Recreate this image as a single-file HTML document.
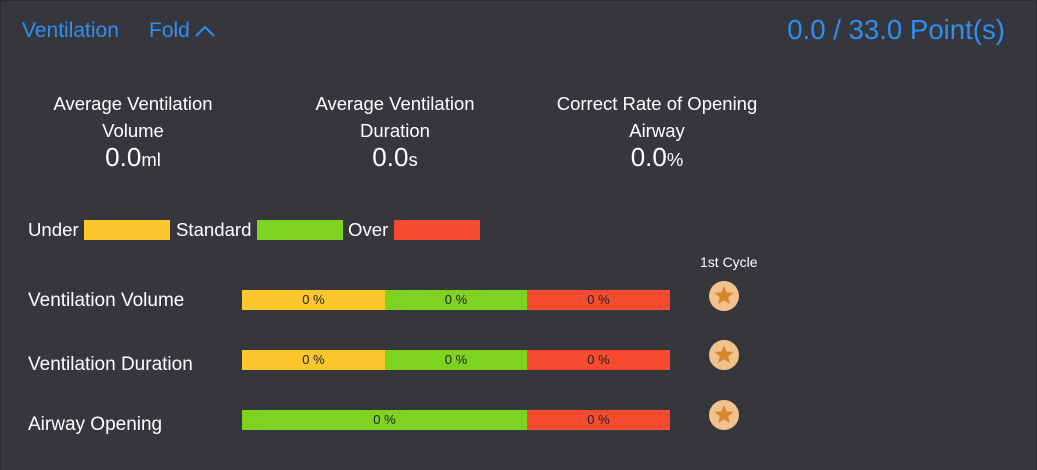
<!DOCTYPE html><html><head><style>
*{margin:0;padding:0;box-sizing:border-box}
body{width:1037px;height:470px;background:#2b2c31;font-family:"Liberation Sans",sans-serif;position:relative;overflow:hidden}
.p{position:absolute;left:1px;top:1px;width:1035px;height:469px;background:#36373d}
.a{position:absolute;white-space:nowrap}
.c{text-align:center;color:#fff}
.bar{position:absolute;height:20px;font-size:13px;color:#222;text-align:center;line-height:20px}
.y{background:#fcc72c}.g{background:#7ed321}.r{background:#f74b2f}
.lab{color:#fff;font-size:19px}
</style></head><body><div class="p"></div>
<div class="a" style="left:22px;top:19px;color:#2f8ef0;font-size:21px">Ventilation</div>
<div class="a" style="left:149px;top:19px;color:#2f8ef0;font-size:21px">Fold</div>
<svg class="a" style="left:194px;top:23px" width="22" height="16"><polyline points="2,13 11,4 20,13" fill="none" stroke="#2f8ef0" stroke-width="2"/></svg>
<div class="a" style="right:32px;top:14px;color:#2f8ef0;font-size:27.6px">0.0 / 33.0 Point(s)</div>
<div class="a c" style="left:23px;width:220px;top:90px;font-size:18.5px;line-height:27px">Average Ventilation<br>Volume</div>
<div class="a c" style="left:23px;width:220px;top:142px;font-size:26px">0.0<span style="font-size:18.5px">ml</span></div>
<div class="a c" style="left:285px;width:220px;top:90px;font-size:18.5px;line-height:27px">Average Ventilation<br>Duration</div>
<div class="a c" style="left:285px;width:220px;top:142px;font-size:26px">0.0<span style="font-size:18.5px">s</span></div>
<div class="a c" style="left:527px;width:260px;top:90px;font-size:18.5px;line-height:27px">Correct Rate of Opening<br>Airway</div>
<div class="a c" style="left:557px;width:200px;top:142px;font-size:26px">0.0<span style="font-size:18.5px">%</span></div>
<div class="a lab" style="left:28px;top:219px;font-size:18.6px">Under</div><div class="a y" style="left:84px;top:220px;width:86px;height:20px"></div>
<div class="a lab" style="left:176px;top:219px;font-size:18.6px">Standard</div><div class="a g" style="left:257px;top:220px;width:86px;height:20px"></div>
<div class="a lab" style="left:348px;top:219px;font-size:18.6px">Over</div><div class="a r" style="left:394px;top:220px;width:86px;height:20px"></div>
<div class="a" style="left:700px;top:254px;color:#fff;font-size:14px">1st Cycle</div>
<div class="a lab" style="left:28px;top:290px">Ventilation Volume</div>
<div class="bar y" style="left:242px;top:290px;width:143px">0 %</div><div class="bar g" style="left:385px;top:290px;width:142px">0 %</div><div class="bar r" style="left:527px;top:290px;width:143px">0 %</div>
<div class="a lab" style="left:28px;top:354px">Ventilation Duration</div>
<div class="bar y" style="left:242px;top:350px;width:143px">0 %</div><div class="bar g" style="left:385px;top:350px;width:142px">0 %</div><div class="bar r" style="left:527px;top:350px;width:143px">0 %</div>
<div class="a lab" style="left:28px;top:414px">Airway Opening</div>
<div class="bar g" style="left:242px;top:410px;width:285px">0 %</div><div class="bar r" style="left:527px;top:410px;width:143px">0 %</div>
<svg class="a" style="left:709px;top:281px" width="30" height="160">
<g fill="#f2c28c"><circle cx="15" cy="15" r="15"/><circle cx="15" cy="74" r="15"/><circle cx="15" cy="134" r="15"/></g>
<g fill="#d8862c"><polygon id="s" points="15,5 17.6,11.4 24.5,11.9 19.2,16.3 20.9,23 15,19.3 9.1,23 10.8,16.3 5.5,11.9 12.4,11.4"/><use href="#s" y="59"/><use href="#s" y="119"/></g>
</svg>
</body></html>
